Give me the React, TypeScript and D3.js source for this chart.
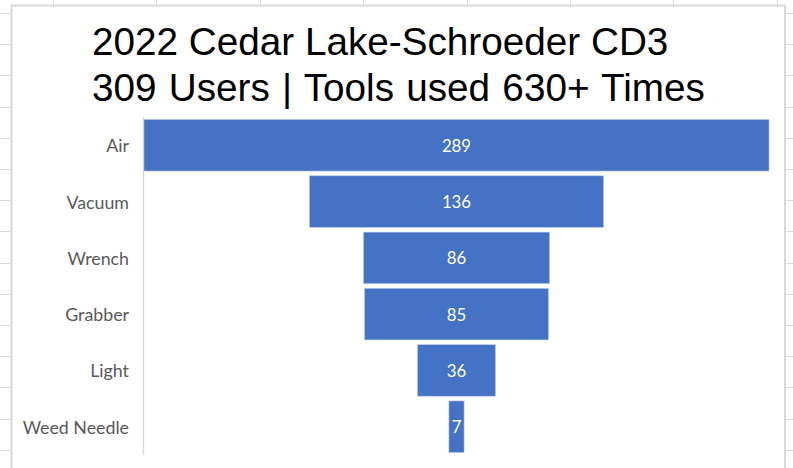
import React from 'react';
import * as d3 from 'd3';

const categories = ['Air', 'Vacuum', 'Wrench', 'Grabber', 'Light', 'Weed Needle'];
const values = [289, 136, 86, 85, 36, 7];
const titleLines = ['2022 Cedar Lake-Schroeder CD3', '309 Users | Tools used 630+ Times'];

const W = 793;
const H = 468;

const App = () => {
  // chart frame inside the spreadsheet
  const frame = { left: 11.5, top: 5.5, right: 785 };
  const plot = { left: 144, right: 769, top: 117, bottom: 455 };

  const y = d3
    .scaleBand<string>()
    .domain(categories)
    .range([plot.top, plot.bottom])
    .paddingInner(0.085)
    .paddingOuter(0.045);

  // funnel: width proportional to value, centred in plot
  const w = d3.scaleLinear().domain([0, d3.max(values) as number]).range([0, plot.right - plot.left]);
  const cx = (plot.left + plot.right) / 2;

  // background spreadsheet grid
  const hLines = d3.range(15).map((i) => 13 + i * 31.2);
  const vLines = d3.range(8).map((i) => 53 + i * 103.4);

  return (
    <svg width={W} height={H} style={{ position: 'absolute', left: 0, top: 0, background: '#fff' }}>
      <g stroke="#dadada" strokeWidth={1}>
        {hLines.map((v) => (
          <line key={'h' + v} x1={0} x2={W} y1={Math.round(v) + 0.5} y2={Math.round(v) + 0.5} />
        ))}
        {vLines.map((v) => (
          <line key={'v' + v} x1={Math.round(v) + 0.5} x2={Math.round(v) + 0.5} y1={0} y2={H} />
        ))}
      </g>

      <rect
        x={frame.left}
        y={frame.top}
        width={frame.right - frame.left}
        height={H}
        fill="#fff"
        stroke="#d9d9d9"
        strokeWidth={2}
      />

      <g fontFamily="'Liberation Sans', Arial, sans-serif" fontSize={38.7} fill="#000">
        {titleLines.map((t, i) => (
          <text key={t} x={92} y={55 + i * 45.5} wordSpacing={i === 1 ? 1.5 : 0}>
            {t}
          </text>
        ))}
      </g>

      <line x1={143.5} x2={143.5} y1={plot.top} y2={plot.bottom} stroke="#d9d9d9" strokeWidth={1.5} />

      <g>
        {categories.map((c, i) => (
          <rect
            key={c}
            x={cx - w(values[i]) / 2}
            y={y(c)}
            width={w(values[i])}
            height={y.bandwidth()}
            fill="#4472C4"
            stroke="#b4c7e7"
            strokeWidth={0.6}
          />
        ))}
      </g>

      <g fontFamily="Lato, 'Noto Sans', sans-serif">
        {categories.map((c, i) => (
          <text
            key={'v' + c}
            x={cx}
            y={(y(c) as number) + y.bandwidth() / 2}
            textAnchor="middle"
            dominantBaseline="central"
            fill="#fff"
            fontSize={16.8}
          >
            {values[i]}
          </text>
        ))}
        {categories.map((c) => (
          <text
            key={'c' + c}
            x={129}
            y={(y(c) as number) + y.bandwidth() / 2}
            textAnchor="end"
            dominantBaseline="central"
            fill="#595959"
            fontSize={17.8}
          >
            {c}
          </text>
        ))}
      </g>
    </svg>
  );
};

export default App;
